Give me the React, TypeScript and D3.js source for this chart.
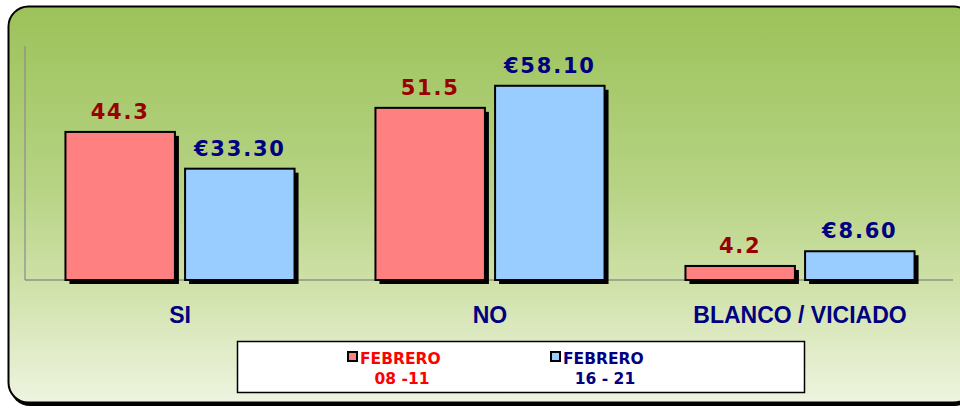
import React from "react";
import * as d3 from "d3";

const categories = ["SI", "NO", "BLANCO / VICIADO"];
const seriesNames = ["FEBRERO 08 -11", "FEBRERO 16 - 21"];
const seriesA = [44.3, 51.5, 4.2];
const seriesB = [33.3, 58.1, 8.6];
const legendLine1 = ["FEBRERO", "FEBRERO"];
const legendLine2 = ["08 -11", "16 - 21"];

const W = 960;
const H = 410;

export default function App() {
  const x0 = d3
    .scaleBand<string>()
    .domain(categories)
    .range([25, 955])
    .paddingInner(0.261)
    .paddingOuter(0.1305);
  const x1 = d3
    .scaleBand<string>()
    .domain(seriesNames)
    .range([0, x0.bandwidth()])
    .paddingInner(0.085);
  const y = d3.scaleLinear().domain([0, 70]).range([280, 46]);
  const fmtA = d3.format(".1f");
  const fmtB = (v: number) => "€" + d3.format(".2f")(v);

  const series = [
    { name: seriesNames[0], values: seriesA, fill: "#FF8080", label: "#990000", fmt: fmtA },
    { name: seriesNames[1], values: seriesB, fill: "#99CCFF", label: "#000080", fmt: fmtB },
  ];
  const legendColors = ["#FF0000", "#000080"];
  const legendX = [360, 563];
  const legendFont = "DejaVu Sans, Verdana, sans-serif";

  return (
    <svg
      width={W}
      height={H}
      style={{ position: "absolute", left: 0, top: 0, display: "block" }}
    >
      <defs>
        <linearGradient id="bg" x1="0" y1="0" x2="0" y2="1">
          <stop offset="0" stopColor="#9CC25A" />
          <stop offset="0.45" stopColor="#B6D383" />
          <stop offset="0.7" stopColor="#CFE1A8" />
          <stop offset="1" stopColor="#EEF4E0" />
        </linearGradient>
      </defs>
      <rect x={10} y={8} width={965} height={398} rx={20} fill="#000" />
      <rect x={8.5} y={6.5} width={965} height={396} rx={20} fill="url(#bg)" stroke="#000" strokeWidth={2} />

      {/* axes */}
      <line x1={25} x2={25} y1={46} y2={280} stroke="#8a8a8a" strokeWidth={1.2} />
      <line x1={25} x2={953} y1={280} y2={280} stroke="#6e6e6e" strokeWidth={1.2} />

      {categories.map((c, ci) => (
        <g key={c} transform={`translate(${x0(c)},0)`}>
          {series.map((s) => {
            const v = s.values[ci];
            const bx = x1(s.name)!;
            const bw = x1.bandwidth();
            const top = y(v);
            const h = y(0) - top;
            return (
              <g key={s.name}>
                <rect x={bx + 4} y={top + 4} width={bw} height={h} fill="#000" />
                <rect x={bx} y={top} width={bw} height={h} fill={s.fill} stroke="#000" strokeWidth={2} />
                <text
                  x={bx + bw / 2}
                  y={top - 13}
                  textAnchor="middle"
                  fontFamily="DejaVu Sans, Verdana, sans-serif"
                  fontWeight="bold"
                  fontSize={21}
                  letterSpacing={1.8}
                  fill={s.label}
                >
                  {s.fmt(v)}
                </text>
              </g>
            );
          })}
          <text
            x={x0.bandwidth() / 2}
            y={322.5}
            textAnchor="middle"
            fontFamily="Liberation Sans, Arial, sans-serif"
            fontWeight="bold"
            fontSize={23}
            fill="#000080"
          >
            {c}
          </text>
        </g>
      ))}

      {/* legend */}
      <rect x={237.5} y={341.5} width={567} height={51} fill="#fff" stroke="#000" strokeWidth={1.5} />
      {series.map((s, i) => (
        <g key={s.name}>
          <rect x={legendX[i] - 12} y={352} width={9} height={9} fill={s.fill} stroke="#000" strokeWidth={2} />
          <text
            x={legendX[i]}
            y={363.5}
            fontFamily={legendFont}
            fontWeight="bold"
            fontSize={15.5}
            fill={legendColors[i]}
          >
            {legendLine1[i]}
          </text>
          <text
            x={legendX[i] + 42}
            y={383.5}
            textAnchor="middle"
            fontFamily={legendFont}
            fontWeight="bold"
            fontSize={15.5}
            fill={legendColors[i]}
          >
            {legendLine2[i]}
          </text>
        </g>
      ))}
    </svg>
  );
}
